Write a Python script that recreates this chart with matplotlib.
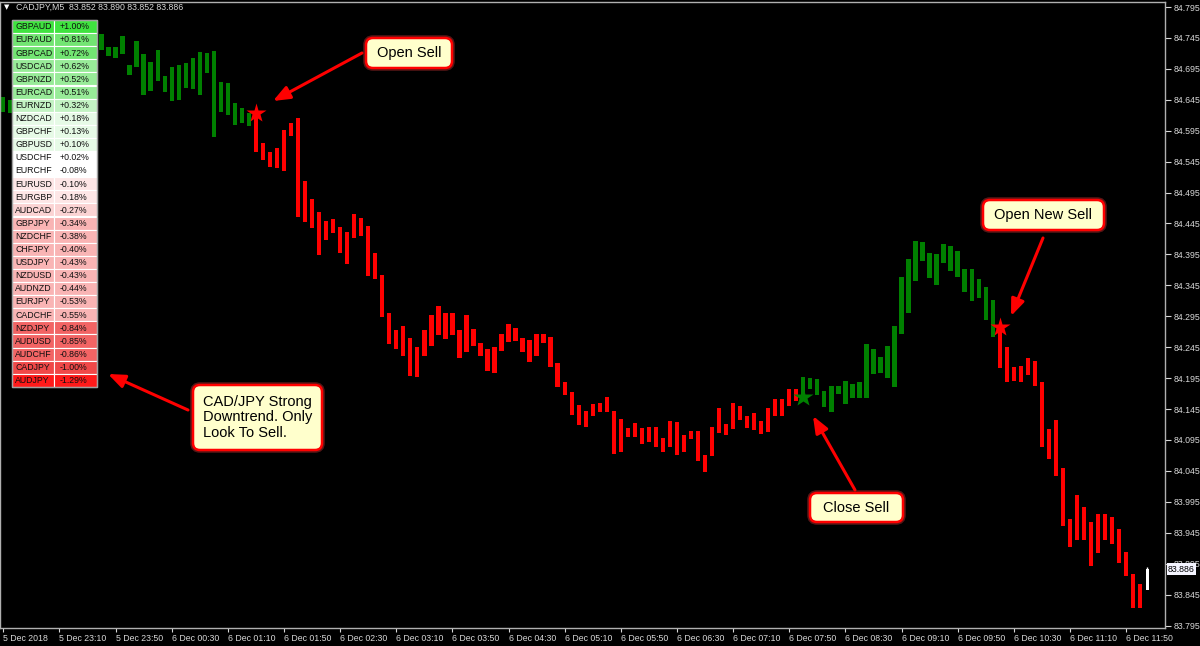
import matplotlib.pyplot as plt
from matplotlib.patches import Rectangle, FancyBboxPatch

plt.rcParams['font.family'] = ['Liberation Sans', 'DejaVu Sans']

symbol = "CADJPY,M5"
last_ohlc = [83.852, 83.890, 83.852, 83.886]

# 5 min bars from 5 Dec 22:30 (index 0) to 6 Dec 12:05 (index 163)
# body top / bottom, None = hidden under the strength table
bar_top = [84.649, 84.645] + [None] * 12 + [
    84.751, 84.731, 84.730, 84.748, 84.701, 84.740, 84.719, 84.706, 84.726, 84.684,   # 14
    84.698, 84.702, 84.704, 84.712, 84.722, 84.720, 84.724, 84.674, 84.672, 84.639,   # 24
    84.632, 84.624, 84.624, 84.575, 84.561, 84.567, 84.596, 84.607, 84.616, 84.513,   # 34
    84.485, 84.463, 84.449, 84.452, 84.440, 84.431, 84.461, 84.454, 84.441, 84.397,   # 44
    84.361, 84.300, 84.273, 84.279, 84.260, 84.246, 84.272, 84.297, 84.312, 84.300,   # 54
    84.301, 84.272, 84.297, 84.274, 84.251, 84.242, 84.246, 84.266, 84.282, 84.276,   # 64
    84.260, 84.257, 84.266, 84.267, 84.261, 84.219, 84.188, 84.172, 84.152, 84.142,   # 74
    84.153, 84.154, 84.164, 84.142, 84.129, 84.115, 84.122, 84.114, 84.116, 84.116,   # 84
    84.098, 84.126, 84.124, 84.103, 84.109, 84.109, 84.070, 84.116, 84.146, 84.121,   # 94
    84.154, 84.150, 84.134, 84.138, 84.126, 84.146, 84.161, 84.161, 84.177, 84.177,   # 104
    84.197, 84.196, 84.193, 84.174, 84.182, 84.182, 84.190, 84.185, 84.188, 84.250,   # 114
    84.242, 84.229, 84.247, 84.279, 84.358, 84.387, 84.416, 84.415, 84.398, 84.395,   # 124
    84.412, 84.409, 84.400, 84.371, 84.371, 84.356, 84.342, 84.322, 84.277, 84.246,   # 134
    84.213, 84.215, 84.227, 84.222, 84.188, 84.112, 84.127, 84.049, 83.967, 84.006,   # 144
    83.986, 83.963, 83.975, 83.975, 83.970, 83.951, 83.914, 83.879, 83.862, 83.886,   # 154
]
bar_bot = [84.625, 84.624] + [None] * 12 + [
    84.725, 84.716, 84.712, 84.719, 84.685, 84.698, 84.652, 84.659, 84.675, 84.658,
    84.643, 84.645, 84.664, 84.662, 84.652, 84.688, 84.585, 84.625, 84.620, 84.605,
    84.607, 84.603, 84.561, 84.548, 84.537, 84.534, 84.530, 84.586, 84.456, 84.448,
    84.438, 84.394, 84.418, 84.430, 84.398, 84.379, 84.422, 84.425, 84.360, 84.355,
    84.294, 84.250, 84.242, 84.231, 84.199, 84.197, 84.231, 84.247, 84.265, 84.259,
    84.264, 84.228, 84.238, 84.247, 84.231, 84.207, 84.204, 84.239, 84.253, 84.255,
    84.238, 84.221, 84.231, 84.251, 84.213, 84.181, 84.167, 84.135, 84.119, 84.116,
    84.134, 84.140, 84.141, 84.072, 84.075, 84.099, 84.099, 84.088, 84.091, 84.083,
    84.076, 84.084, 84.071, 84.075, 84.097, 84.061, 84.044, 84.069, 84.106, 84.103,
    84.112, 84.127, 84.115, 84.111, 84.105, 84.108, 84.134, 84.133, 84.150, 84.158,
    84.165, 84.177, 84.167, 84.149, 84.140, 84.169, 84.153, 84.163, 84.163, 84.163,
    84.201, 84.204, 84.196, 84.181, 84.267, 84.301, 84.352, 84.384, 84.357, 84.346,
    84.381, 84.368, 84.359, 84.335, 84.319, 84.325, 84.289, 84.262, 84.211, 84.189,
    84.191, 84.189, 84.200, 84.183, 84.083, 84.064, 84.037, 83.956, 83.922, 83.934,
    83.934, 83.892, 83.913, 83.934, 83.927, 83.896, 83.875, 83.823, 83.824, 83.852,
]
# G = up, R = down, W = current bar, - = hidden
bar_dir = "GG" + "-" * 12 + "G" * 22 + "R" * 78 + "G" * 28 + "R" * 21 + "W"

signal_bars = [36, 114, 142]

price_ticks = [84.795, 84.745, 84.695, 84.645, 84.595, 84.545, 84.495, 84.445, 84.395,
               84.345, 84.295, 84.245, 84.195, 84.145, 84.095, 84.045, 83.995, 83.945,
               83.895, 83.845, 83.795]
time_ticks = list(range(0, 161, 8))
time_labels = ["5 Dec 2018", "5 Dec 23:10", "5 Dec 23:50", "6 Dec 00:30", "6 Dec 01:10",
               "6 Dec 01:50", "6 Dec 02:30", "6 Dec 03:10", "6 Dec 03:50", "6 Dec 04:30",
               "6 Dec 05:10", "6 Dec 05:50", "6 Dec 06:30", "6 Dec 07:10", "6 Dec 07:50",
               "6 Dec 08:30", "6 Dec 09:10", "6 Dec 09:50", "6 Dec 10:30", "6 Dec 11:10",
               "6 Dec 11:50"]

pairs = ["GBPAUD", "EURAUD", "GBPCAD", "USDCAD", "GBPNZD", "EURCAD", "EURNZD", "NZDCAD",
         "GBPCHF", "GBPUSD", "USDCHF", "EURCHF", "EURUSD", "EURGBP", "AUDCAD", "GBPJPY",
         "NZDCHF", "CHFJPY", "USDJPY", "NZDUSD", "AUDNZD", "EURJPY", "CADCHF", "NZDJPY",
         "AUDUSD", "AUDCHF", "CADJPY", "AUDJPY"]
pair_change = [1.00, 0.81, 0.72, 0.62, 0.52, 0.51, 0.32, 0.18, 0.13, 0.10, 0.02, -0.08,
               -0.10, -0.18, -0.27, -0.34, -0.38, -0.40, -0.43, -0.43, -0.44, -0.53,
               -0.55, -0.84, -0.85, -0.86, -1.00, -1.29]


def cell_color(v):
    if v >= 0.9: return '#3fe33f'
    if v >= 0.7: return '#72e572'
    if v >= 0.5: return '#98eb98'
    if v >= 0.3: return '#c3f3c3'
    if v >= 0.1: return '#e6fae6'
    if v > -0.1: return '#ffffff'
    if v > -0.2: return '#fde6e6'
    if v > -0.3: return '#fbd3d3'
    if v > -0.6: return '#f9b4b4'
    if v > -0.9: return '#f26464'
    if v > -1.1: return '#f04848'
    return '#ff1a1a'


colors = {'G': '#008000', 'R': '#ff0000', 'W': '#ffffff'}
fg = '#d8d8d8'

fig = plt.figure(figsize=(12, 6.46), dpi=100, facecolor='black')
ax = fig.add_axes([0, 18 / 646, 1165 / 1200, 626 / 646], facecolor='black')

# bars
for i, d in enumerate(bar_dir):
    if d == '-':
        continue
    w = 0.45 if d == 'W' else 0.62
    ax.bar(i, bar_top[i] - bar_bot[i], bottom=bar_bot[i], width=w,
           color=colors[d], linewidth=0, zorder=2)
ax.vlines(163, last_ohlc[3], last_ohlc[1], color='white', lw=1, zorder=2)

# signal stars at the bar open
for b in signal_bars:
    y = bar_top[b] if bar_dir[b] == 'R' else bar_bot[b]
    ax.plot(b, y, marker='*', ms=15, color=colors['R'] if bar_dir[b] == 'R' else colors['G'],
            mec='none', zorder=4)

ax.set_xlim(-0.47, 165.55)
ax.set_ylim(83.791, 84.8031)
ax.yaxis.tick_right()
ax.set_yticks(price_ticks)
ax.set_yticklabels([f"{p:.3f}" for p in price_ticks])
ax.set_xticks(time_ticks)
ax.set_xticklabels(time_labels, ha='left')
ax.tick_params(axis='y', length=4, pad=2, colors=fg, labelsize=6.3, width=0.8)
ax.tick_params(axis='x', length=3, pad=1.5, colors=fg, labelsize=6.3, width=0.8)
for s in ax.spines.values():
    s.set_color('#b0b0b0')
    s.set_linewidth(1)

# current price label (sits over the 83.895 level label, as in the terminal)
ax.text(1.0025, last_ohlc[3], f"{last_ohlc[3]:.3f}", transform=ax.get_yaxis_transform(),
        fontsize=6.3, color='black', va='center', ha='left', zorder=5, clip_on=False,
        bbox=dict(boxstyle='square,pad=0.15', fc='#f4f4ff', ec='none'))

# overlay in pixel coordinates for table and notes
ov = fig.add_axes([0, 0, 1, 1])
ov.set_xlim(0, 1200)
ov.set_ylim(646, 0)
ov.axis('off')
ov.patch.set_alpha(0)

ov.text(4, 7.5, "\u25bc", fontsize=5, color='white', va='center', ha='left',
        family=['DejaVu Sans'])
ov.text(16, 7.5, f"{symbol}  " + " ".join(f"{v:.3f}" for v in last_ohlc),
        fontsize=6.3, color=fg, va='center', ha='left')

# strength table
tx0, tsplit, tx1, ty0, rh = 11.7, 54.3, 96.7, 20, 13.1
for r, (name, v) in enumerate(zip(pairs, pair_change)):
    y = ty0 + r * rh
    c = cell_color(v)
    ov.add_patch(Rectangle((tx0, y), tsplit - tx0, rh, fc=c, ec='white', lw=0.8, zorder=5))
    ov.add_patch(Rectangle((tsplit, y), tx1 - tsplit, rh, fc=c, ec='white', lw=0.8, zorder=5))
    ov.text(15, y + rh / 2 + 0.3, name, fontsize=6.3, va='center', ha='left',
            color='#101010', zorder=6)
    ov.text(60, y + rh / 2 + 0.3, f"{v:+.2f}%", fontsize=6.3, va='center', ha='left',
            color='#101010', zorder=6)
ov.add_patch(Rectangle((tx0, ty0), tx1 - tx0, rh * len(pairs), fc='none', ec='#a0a0a0',
                       lw=1, zorder=7))

# notes: box (x0, y0, x1, y1), text, arrow start, arrow tip
notes = [
    ((366, 38, 452, 68), "Open Sell", (362, 53), (273, 101)),
    ((193, 385, 322, 450), "CAD/JPY Strong\nDowntrend. Only\nLook To Sell.", (188, 410), (108, 374)),
    ((810, 493, 903, 522), "Close Sell", (855, 490), (813, 416)),
    ((983, 200, 1104, 230), "Open New Sell", (1043, 238), (1011, 316)),
]
for (x0, y0, x1, y1), txt, start, tip in notes:
    ov.add_patch(FancyBboxPatch((x0, y0), x1 - x0, y1 - y0,
                                boxstyle='round,pad=0,rounding_size=7',
                                fc='none', ec='#ff4040', lw=4, alpha=0.35, zorder=7))
    ov.add_patch(FancyBboxPatch((x0, y0), x1 - x0, y1 - y0,
                                boxstyle='round,pad=0,rounding_size=7',
                                fc='#ffffcc', ec='#ff0000', lw=1.8, zorder=8))
    if '\n' in txt:
        ov.text(x0 + 10, (y0 + y1) / 2, txt, fontsize=10.5, va='center', ha='left',
                linespacing=1.15, color='black', zorder=9)
    else:
        ov.text((x0 + x1) / 2, (y0 + y1) / 2 + 0.5, txt, fontsize=10.5, va='center',
                ha='center', color='black', zorder=9)
    ov.annotate('', xy=tip, xytext=start, xycoords='data',
                arrowprops=dict(arrowstyle='-|>,head_length=1.0,head_width=0.4',
                                color='#ff0000', lw=2.2, shrinkA=0, shrinkB=0), zorder=9)

fig.savefig('out.png', dpi=100, facecolor='black')
